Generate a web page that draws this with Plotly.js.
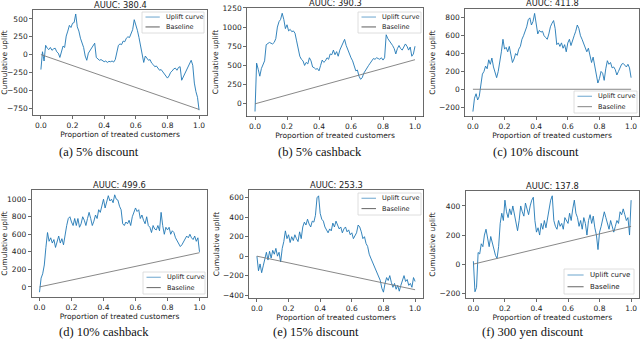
<!DOCTYPE html>
<html>
<head>
<meta charset="utf-8">
<script src="https://cdn.plot.ly/plotly-3.0.1.min.js"></script>
<style>
  html, body { margin: 0; padding: 0; background: #fff; }
  #chart { width: 640px; height: 339px; }
</style>
</head>
<body>
<div id="chart"></div>
<script>
// proportion of treated customers (shared x grid)
const share = [
  0.00, 0.01, 0.02, 0.03, 0.04, 0.05, 0.06, 0.07, 0.08, 0.09,
  0.10, 0.11, 0.12, 0.13, 0.14, 0.15, 0.16, 0.17, 0.18, 0.19,
  0.20, 0.21, 0.22, 0.23, 0.24, 0.25, 0.26, 0.27, 0.28, 0.29,
  0.30, 0.31, 0.32, 0.33, 0.34, 0.35, 0.36, 0.37, 0.38, 0.39,
  0.40, 0.41, 0.42, 0.43, 0.44, 0.45, 0.46, 0.47, 0.48, 0.49,
  0.50, 0.51, 0.52, 0.53, 0.54, 0.55, 0.56, 0.57, 0.58, 0.59,
  0.60, 0.61, 0.62, 0.63, 0.64, 0.65, 0.66, 0.67, 0.68, 0.69,
  0.70, 0.71, 0.72, 0.73, 0.74, 0.75, 0.76, 0.77, 0.78, 0.79,
  0.80, 0.81, 0.82, 0.83, 0.84, 0.85, 0.86, 0.87, 0.88, 0.89,
  0.90, 0.91, 0.92, 0.93, 0.94, 0.95, 0.96, 0.97, 0.98, 0.99,
  1.00
];

// cumulative uplift
const upliftA = [
  -210, 40, -90, 130, 90, 70, 100, 60, 80, 90,
  40, 20, -40, 60, 120, 100, 260, 330, 410, 380,
  440, 450, 570, 390, 330, 230, 160, 100, -20, -80,
  20, 60, 90, 120, 160, -40, -60, -80, -70, -90,
  -100, -90, -110, -95, -100, -90, -105, -70, 20, 130,
  150, 140, 190, 180, 230, 250, 240, 300, 350, 490,
  420, 340, 240, 120, 40, -110, -20, -50, -80, -70,
  -120, -140, -170, -160, -200, -220, -210, -240, -280, -300,
  -330, -300, -250, -230, -200, -190, -220, -180, -170, -360,
  -310, -280, -220, -170, -130, -80, -150, -400, -520, -600,
  -780
];
const upliftB = [
  -100, 530, 450, 360, 460, 500, 560, 770, 780, 800,
  790, 780, 800, 850, 1000, 1070, 1100, 1180, 1100, 980,
  1030, 950, 970, 940, 950, 920, 820, 700, 620, 580,
  560, 500, 540, 520, 600, 560, 480, 470, 450, 460,
  430, 500, 570, 540, 560, 600, 580, 650, 640, 700,
  640, 680, 620, 700, 750, 800, 840, 760, 700, 650,
  600, 560, 500, 430, 440, 360, 320, 340, 400, 440,
  480, 500, 530, 560, 590, 580, 600, 590, 580, 600,
  570, 600, 900, 850, 820, 800, 760, 720, 650, 720,
  760, 720, 700, 740, 780, 750, 700, 740, 620, 650,
  750
];
const upliftC = [
  -250, -100, -50, -120, -80, 50, 170, 200, 260, 230,
  330, 280, 350, 250, 200, 130, 200, 300, 420, 560,
  450, 470, 420, 480, 380, 300, 340, 400, 380, 450,
  480, 560, 600, 650, 700, 780, 800, 720, 760, 850,
  700, 620, 660, 640, 650, 600, 580, 560, 620, 700,
  740, 770, 680, 500, 520, 480, 520, 460, 500, 420,
  520, 560, 490, 560, 600, 650, 720, 680, 600, 560,
  520, 460, 420, 460, 380, 300, 360, 260, 160, 70,
  120, 200, 180, 100, 230, 320, 280, 300, 240, 250,
  220, 160, 200, 240, 280, 290, 270, 250, 280, 240,
  130
];
const upliftD = [
  -60, 100, 150, 250, 450, 620, 520, 560, 500, 540,
  450, 520, 580, 500, 550, 480, 600, 700, 780, 800,
  740, 700, 780, 700, 780, 680, 720, 800, 760, 700,
  780, 850, 780, 700, 750, 820, 780, 880, 850, 920,
  1000, 900, 960, 1040, 980, 1000, 960, 1050, 1000, 990,
  920, 880, 720, 700, 740, 720, 760, 700, 800, 850,
  900, 860, 880, 780, 820, 760, 720, 800, 700, 680,
  620, 700, 660, 650, 700, 640, 850, 700, 600, 680,
  650, 680, 600, 640, 620, 560, 520, 500, 460, 480,
  520, 560, 580, 560, 600, 560, 540, 580, 520, 560,
  400
];
const upliftE = [
  0, -150, -80, -170, -100, -20, 40, -40, 50, -20,
  60, 20, 80, 0, 40, -60, 80, 150, 260, 180,
  220, 140, 200, 160, 220, 180, 150, 250, 180, 300,
  350, 320, 380, 330, 300, 360, 350, 420, 600, 620,
  440, 380, 360, 300, 260, 240, 280, 260, 340, 300,
  360, 320, 280, 300, 240, 280, 300, 250, 270, 220,
  240, 180, 210, 240, 320, 300, 250, 180, 200, 130,
  100, 20, -20, -60, -100, -130, -160, -200, -250, -330,
  -370, -280, -220, -250, -200, -270, -320, -280, -340, -300,
  -360, -300, -260, -200, -260, -240, -300, -280, -320, -220,
  -260
];
const upliftF = [
  20, -190, -160, 80, 70, 140, 120, 200, 240, 170,
  120, 190, 150, 100, 60, 40, 120, 280, 350, 300,
  440, 360, 320, 380, 340, 400, 350, 300, 230, 300,
  400, 360, 330, 420, 380, 340, 400, 440, 460, 300,
  220, 250, 200, 280, 240, 300, 250, 320, 400, 440,
  470, 300, 260, 240, 300, 260, 280, 240, 320, 300,
  280, 350, 300, 380, 440, 350, 320, 260, 300, 240,
  320, 280, 200, 300, 340, 280, 330, 250, 200, 100,
  220, 260, 300, 360, 320, 280, 240, 300, 260, 220,
  260, 300, 280, 360, 340, 380, 340, 300, 320, 200,
  440
];

// random-targeting baselines: straight line from 0 to the final uplift
const baseX = [0, 1];
const baseA = [0, -770];
const baseB = [0, 575];
const baseC = [0, 0];
const baseD = [0, 390];
const baseE = [0, -345];
const baseF = [0, 260];

const aucTitles = ['AUUC: 380.4', 'AUUC: 390.3', 'AUUC: 411.8', 'AUUC: 499.6', 'AUUC: 253.3', 'AUUC: 137.8'];
const captions = ['(a) 5% discount', '(b) 5% cashback', '(c) 10% discount', '(d) 10% cashback', '(e) 15% discount', '(f) 300 yen discount'];
const xTicks = [0, 0.2, 0.4, 0.6, 0.8, 1.0];
const yTicksA = [-750, -500, -250, 0, 250, 500];
const yTicksB = [0, 250, 500, 750, 1000, 1250];
const yTicksC = [-200, 0, 200, 400, 600, 800];
const yTicksD = [0, 200, 400, 600, 800, 1000];
const yTicksE = [-400, -200, 0, 200, 400, 600];
const yTicksF = [-200, 0, 200, 400];

const W = 640, H = 339;
const FONT = 'DejaVu Sans, sans-serif';
const FS = 7.5;
const CURVE = '#1f77b4';
const BASE = '#7a7a7a';

// panel boxes in pixels: left, right, top, bottom, y range, caption centre
const panels = [
  { l: 33, r: 207, t: 10, b: 115, yr: [-848, 626], yt: yTicksA, up: upliftA, base: baseA, capX: 99,
    leg: { l: 142, t: 12, w: 62, h: 21, fs: 6.5, baseW: 1.6 } },
  { l: 247, r: 423, t: 7.5, b: 116.5, yr: [-165, 1255], yt: yTicksB, up: upliftB, base: baseB, capX: 320,
    leg: { l: 358, t: 12, w: 63, h: 21, fs: 6.5, baseW: 1.6 } },
  { l: 465, r: 639, t: 8.5, b: 116.5, yr: [-305, 905], yt: yTicksC, up: upliftC, base: baseC, capX: 536,
    leg: { l: 574, t: 91, w: 63, h: 22, fs: 6.5, baseW: 1.2 } },
  { l: 31.5, r: 207.5, t: 190, b: 297, yr: [-115, 1105], yt: yTicksD, up: upliftD, base: baseD, capX: 104,
    leg: { l: 143, t: 272, w: 62, h: 22, fs: 6.5, baseW: 1.0 } },
  { l: 249, r: 423, t: 190, b: 298, yr: [-430, 680], yt: yTicksE, up: upliftE, base: baseE, capX: 316,
    leg: { l: 358, t: 193, w: 63, h: 22, fs: 6.5, baseW: 1.0 } },
  { l: 465.5, r: 639, t: 191, b: 298, yr: [-233, 503], yt: yTicksF, up: upliftF, base: baseF, capX: 533,
    leg: { l: 564, t: 269, w: 70, h: 25, fs: 7, baseW: 1.0 } }
];

const px = v => v / W;
const py = v => 1 - v / H;

const data = [];
const layout = {
  width: W, height: H,
  margin: { l: 0, r: 0, t: 0, b: 0, pad: 0 },
  paper_bgcolor: '#fff', plot_bgcolor: '#fff',
  showlegend: false,
  font: { family: FONT, size: FS, color: '#222' },
  annotations: [],
  shapes: []
};

panels.forEach((p, i) => {
  const n = i === 0 ? '' : String(i + 1);
  const xa = 'x' + n, ya = 'y' + n;

  data.push({
    x: share, y: p.up, xaxis: xa, yaxis: ya, type: 'scatter', mode: 'lines',
    name: 'Uplift curve', line: { color: CURVE, width: 0.9 }
  });
  data.push({
    x: baseX, y: p.base, xaxis: xa, yaxis: ya, type: 'scatter', mode: 'lines',
    name: 'Baseline', line: { color: BASE, width: 0.9 }
  });

  const common = {
    showline: true, mirror: true, linecolor: '#444', linewidth: 0.8,
    ticks: 'outside', ticklen: 3, tickwidth: 0.8, tickcolor: '#444',
    showgrid: false, zeroline: false,
    tickfont: { family: FONT, size: FS, color: '#222' }
  };
  layout['xaxis' + n] = Object.assign({}, common, {
    domain: [px(p.l), px(p.r)], anchor: ya, range: [-0.05, 1.05],
    tickvals: xTicks, tickformat: '.1f',
    title: { text: 'Proportion of treated customers', font: { family: FONT, size: FS, color: '#222' }, standoff: 1 }
  });
  layout['yaxis' + n] = Object.assign({}, common, {
    domain: [py(p.b), py(p.t)], anchor: xa, range: p.yr,
    tickvals: p.yt,
    title: { text: 'Cumulative uplift', font: { family: FONT, size: FS, color: '#222' }, standoff: 2 }
  });

  // subplot title
  layout.annotations.push({
    xref: 'paper', yref: 'paper', x: px((p.l + p.r) / 2), y: py(p.t),
    xanchor: 'center', yanchor: 'bottom', yshift: -2, showarrow: false,
    text: aucTitles[i], font: { family: FONT, size: 8.3, color: '#222' }
  });
  // caption under the subplot
  layout.annotations.push({
    xref: 'paper', yref: 'paper', x: px(p.capX), y: py(i < 3 ? 152 : 331.5),
    xanchor: 'center', yanchor: 'middle', showarrow: false,
    text: captions[i], font: { family: 'Liberation Serif, Times New Roman, serif', size: 12.5, color: '#111' }
  });

  // legend box drawn by hand, matplotlib style
  const g = p.leg;
  layout.shapes.push({
    type: 'rect', xref: 'paper', yref: 'paper', layer: 'above',
    x0: px(g.l), x1: px(g.l + g.w), y0: py(g.t + g.h), y1: py(g.t),
    fillcolor: 'rgba(255,255,255,0.85)', line: { color: '#d6d6d6', width: 0.8 }
  });
  const rowY = [g.t + g.h * 0.24, g.t + g.h * 0.71];
  const lineX0 = g.l + 3.5, lineX1 = g.l + 3.5 + g.w * 0.23;
  layout.shapes.push({
    type: 'line', xref: 'paper', yref: 'paper', layer: 'above',
    x0: px(lineX0), x1: px(lineX1), y0: py(rowY[0]), y1: py(rowY[0]),
    line: { color: 'rgba(31,119,180,0.55)', width: 1.2 }
  });
  layout.shapes.push({
    type: 'line', xref: 'paper', yref: 'paper', layer: 'above',
    x0: px(lineX0), x1: px(lineX1), y0: py(rowY[1]), y1: py(rowY[1]),
    line: { color: i < 3 ? '#9a9a9a' : '#666', width: g.baseW }
  });
  ['Uplift curve', 'Baseline'].forEach((label, k) => {
    layout.annotations.push({
      xref: 'paper', yref: 'paper', x: px(lineX1 + 4), y: py(rowY[k]),
      xanchor: 'left', yanchor: 'middle', showarrow: false,
      text: label, font: { family: FONT, size: g.fs, color: '#222' }
    });
  });
});

Plotly.newPlot('chart', data, layout, { staticPlot: true, displayModeBar: false });
</script>
</body>
</html>
